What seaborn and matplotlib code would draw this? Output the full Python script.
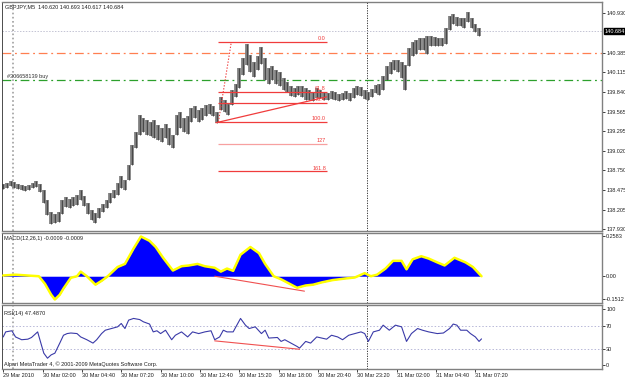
import numpy as np
import pandas as pd
import seaborn as sns
import matplotlib
matplotlib.use("Agg")
import matplotlib.pyplot as plt
import matplotlib.transforms as mtrans
from matplotlib import font_manager

sns.set_theme(style="white")
avail = {f.name for f in font_manager.fontManager.ttflist}
FONT = next((f for f in ["Liberation Sans Narrow", "DejaVu Sans Condensed", "Liberation Sans"] if f in avail), "DejaVu Sans")
plt.rcParams['font.family'] = [FONT, 'DejaVu Sans']

# ---------------- data ----------------
title_text = "GBPJPY,M5  140.620 140.693 140.617 140.684"
last_price = 140.684

# price columns (each column = 3 M5 bars), high / low
price_high = [138.56, 138.57, 138.60, 138.59, 138.56, 138.55, 138.53, 138.55, 138.57, 138.60,
              138.56, 138.48, 138.34, 138.17, 138.14, 138.17, 138.34, 138.38, 138.35, 138.38,
              138.41, 138.48, 138.39, 138.30, 138.20, 138.16, 138.23, 138.28, 138.34, 138.43,
              138.48, 138.57, 138.67, 138.62, 138.82, 139.10, 139.28, 139.52, 139.48, 139.45,
              139.42, 139.45, 139.38, 139.34, 139.39, 139.34, 139.24, 139.52, 139.56, 139.48,
              139.50, 139.62, 139.64, 139.59, 139.62, 139.66, 139.67, 139.64, 139.56, 139.77,
              139.73, 139.67, 139.87, 139.95, 140.17, 140.31, 140.50, 140.35, 140.25, 140.34,
              140.46, 140.31, 140.17, 140.20, 140.14, 140.12, 140.03, 139.98, 139.92, 139.89,
              139.92, 139.92, 139.89, 139.87, 139.84, 139.89, 139.87, 139.84, 139.82, 139.85,
              139.84, 139.81, 139.82, 139.85, 139.82, 139.89, 139.92, 139.91, 139.87, 139.84,
              139.88, 139.93, 139.95, 140.06, 140.20, 140.25, 140.28, 140.28, 140.25, 140.21,
              140.45, 140.53, 140.56, 140.59, 140.59, 140.62, 140.62, 140.60, 140.59, 140.59,
              140.73, 140.89, 140.92, 140.88, 140.87, 140.87, 140.95, 140.87, 140.78, 140.73]
price_low = [138.49, 138.50, 138.53, 138.50, 138.49, 138.48, 138.46, 138.48, 138.50, 138.52,
             138.45, 138.30, 138.13, 138.00, 138.02, 138.03, 138.14, 138.24, 138.23, 138.25,
             138.27, 138.34, 138.25, 138.14, 138.06, 138.02, 138.09, 138.17, 138.23, 138.30,
             138.37, 138.41, 138.50, 138.48, 138.62, 138.82, 139.06, 139.24, 139.28, 139.24,
             139.23, 139.20, 139.17, 139.14, 139.20, 139.10, 139.06, 139.24, 139.34, 139.28,
             139.25, 139.42, 139.48, 139.42, 139.45, 139.50, 139.53, 139.50, 139.41, 139.59,
             139.56, 139.52, 139.66, 139.77, 139.89, 140.07, 140.21, 140.12, 140.05, 140.14,
             140.23, 140.00, 139.95, 140.00, 139.95, 139.92, 139.87, 139.84, 139.78, 139.77,
             139.80, 139.77, 139.73, 139.73, 139.71, 139.75, 139.75, 139.73, 139.73, 139.74,
             139.73, 139.71, 139.73, 139.74, 139.71, 139.75, 139.80, 139.78, 139.74, 139.73,
             139.77, 139.82, 139.80, 139.87, 140.00, 140.09, 140.14, 140.12, 140.03, 139.87,
             140.20, 140.34, 140.37, 140.42, 140.42, 140.37, 140.48, 140.48, 140.48, 140.48,
             140.50, 140.70, 140.78, 140.75, 140.75, 140.73, 140.81, 140.73, 140.67, 140.62]
bars_per_column = 3

price_ticks = [140.930, 140.385, 140.115, 139.840, 139.565, 139.295, 139.020,
               138.750, 138.475, 138.205, 137.930]

orange_level = 140.38
green_level = 140.00
order_label = "#306658139 buy"

fib_high, fib_low = 140.53, 139.42
fib_start_bar, fib_end_bar, fib_peak_bar = 175, 263.5, 185.5
fib_levels = [0.0, 61.8, 76.4, 100.0, 127.0, 161.8]
fib_labels = ["0.0", "61.8", "76.4", "100.0", "127", "161.8"]
fib_colors = ["#f03c3c", "#f03c3c", "#f03c3c", "#f03c3c", "#f7a0a0", "#f03c3c"]

trend_bars = [173, 263]
trend_prices = [139.41, 139.77]

macd_bar = [0, 10, 23, 29, 34, 39, 42, 46, 49, 55, 60, 63, 68, 75, 80, 85, 93, 99, 106, 112,
            119, 124, 130, 138, 145, 151, 158, 164, 172, 177, 182, 187, 193, 201, 208, 213, 220, 226, 239, 246,
            252, 259, 268, 278, 286, 294, 299, 304, 311, 317, 324, 328, 333, 340, 346, 353, 359, 367, 376, 382,
            389]
macd_val = [0.005, 0.01, 0.003, 0.0, -0.05, -0.12, -0.1512, -0.12, -0.08, -0.01,
            0.0, 0.03, 0.0, -0.055, -0.03, 0.0, 0.06, 0.08, 0.18, 0.2583,
            0.23, 0.19, 0.12, 0.037, 0.065, 0.07, 0.08, 0.065, 0.055, 0.03,
            0.05, 0.035, 0.14, 0.19, 0.15, 0.08, 0.0, -0.02, -0.075, -0.06,
            -0.055, -0.04, -0.025, -0.015, -0.008, 0.02, 0.0, 0.01, 0.05, 0.1,
            0.1, 0.045, 0.11, 0.13, 0.115, 0.09, 0.07, 0.12, 0.09, 0.06,
            0.0]
macd_ticks = [0.2583, 0.0, -0.1512]
macd_ticklabels = ["0.2583", "0.00", "-0.1512"]
macd_div_bars = [172, 245]
macd_div_vals = [0.0, -0.097]

rsi_bar = [0, 2, 7, 10, 15, 20, 23, 28, 31, 33, 36, 39, 42, 46, 49, 52, 55, 60, 63, 68,
           73, 76, 80, 83, 88, 93, 96, 99, 102, 106, 111, 114, 119, 122, 125, 128, 132, 137, 140, 145,
           150, 154, 159, 164, 169, 172, 176, 179, 182, 187, 190, 193, 197, 200, 205, 210, 213, 216, 223, 226,
           229, 234, 239, 241, 246, 250, 255, 259, 263, 267, 272, 276, 281, 286, 291, 294, 297, 301, 306, 309,
           314, 319, 324, 328, 332, 337, 341, 346, 353, 358, 363, 366, 369, 372, 377, 380, 384, 387, 389]
rsi_val = [51, 60, 62, 51, 46, 47, 50, 60, 37, 22, 13, 19, 22, 40, 54, 57, 58, 57, 51, 46,
           40, 46, 57, 63, 66, 69, 75, 66, 81, 84, 82, 78, 74, 60, 62, 57, 63, 46, 54, 60,
           51, 60, 57, 60, 62, 46, 51, 63, 60, 60, 72, 84, 72, 66, 69, 57, 63, 49, 50, 43,
           46, 40, 34, 31, 43, 40, 51, 49, 47, 54, 51, 46, 54, 57, 60, 57, 43, 60, 63, 72,
           63, 72, 69, 43, 57, 66, 63, 60, 57, 58, 66, 74, 72, 63, 63, 57, 51, 43, 47.49]
rsi_ticks = [100, 70, 30, 0]
rsi_div_bars = [172, 241]
rsi_div_vals = [44, 29]

day_separators = [8, 296]
time_ticks = [0, 32, 64, 96, 128, 160, 192, 224, 256, 288, 320, 352, 384]
time_labels = ["29 Mar 2010", "30 Mar 02:00", "30 Mar 04:40", "30 Mar 07:20", "30 Mar 10:00",
               "30 Mar 12:40", "30 Mar 15:20", "30 Mar 18:00", "30 Mar 20:40", "30 Mar 23:20",
               "31 Mar 02:00", "31 Mar 04:40", "31 Mar 07:20"]

macd_title = "MACD(12,26,1) -0.0009 -0.0009"
rsi_title = "RSI(14) 47.4870"
copyright_text = "Alpari MetaTrader 4, \u00a9 2001-2009 MetaQuotes Software Corp."

# ---------------- figure ----------------
W, H = 625, 380
fig = plt.figure(figsize=(W / 100, H / 100), dpi=100)
fig.patch.set_facecolor("white")

def box(top, bottom):
    return [2 / W, 1 - bottom / H, 600 / W, (bottom - top) / H]

ax1 = fig.add_axes(box(2, 231))
ax2 = fig.add_axes(box(233, 303))
ax3 = fig.add_axes(box(305, 369))

FS = 4.0
for ax in (ax1, ax2, ax3):
    ax.set_facecolor("white")
    ax.set_xlim(-1, 487)
    ax.yaxis.tick_right()
    ax.tick_params(axis="y", which="both", right=True, left=False, length=2, width=0.6,
                   pad=1, labelsize=FS, colors="#202020", direction="out")
    for s in ax.spines.values():
        s.set_color("#808080")
        s.set_linewidth(1.0)
    ax.spines["left"].set_color("#303030")
    ax.spines["left"].set_linewidth(0.6)
    ax.grid(False)
    ax.axvline(day_separators[0], color="#a0a0a0", ls=(0, (1, 1.5)), lw=1.2, zorder=1)
    ax.axvline(day_separators[1], color="#202020", ls=(0, (1.5, 1.5)), lw=0.6, zorder=1)

# ---- main price panel ----
df = pd.DataFrame({"bar": np.arange(len(price_high)) * bars_per_column,
                   "high": price_high, "low": price_low})
ax1.axhline(last_price, color="#c4c4d4", ls=(0, (1.5, 1.5)), lw=0.7, zorder=1)
ax1.axhline(orange_level, color="#ff7f50", ls=(0, (7, 3, 1.5, 3)), lw=0.9, zorder=1)
ax1.axhline(green_level, color="#2ca02c", ls=(0, (7, 3, 1.5, 3)), lw=0.9, zorder=1)
ax1.vlines(df["bar"], df["low"], df["high"], color="#7e7e7e", lw=2.7, zorder=2)
ax1.vlines(df["bar"], df["low"], df["high"], color="#3a3a3a", lw=0.55, zorder=3)
ax1.set_ylim(137.907, 141.087)
ax1.set_yticks(price_ticks)
ax1.set_yticklabels([f"{t:.3f}" for t in price_ticks])
ax1.set_xticks([])

ax1.text(3, green_level + 0.015, order_label, fontsize=FS, color="#303030", va="bottom", ha="left")

for lev, lab, col in zip(fib_levels, fib_labels, fib_colors):
    p = fib_high - (fib_high - fib_low) * lev / 100.0
    ax1.hlines(p, fib_start_bar, fib_end_bar, color=col, lw=0.9, zorder=4)
    ax1.text(fib_end_bar - 1, p + 0.012, lab, fontsize=FS, color="#f03c3c", ha="right", va="bottom", zorder=5)
ax1.plot([fib_start_bar, fib_peak_bar], [fib_low, fib_high], color="#f03c3c", ls=(0, (1.2, 1.5)), lw=0.8, zorder=4)
ax1.plot(trend_bars, trend_prices, color="#f03c3c", lw=0.9, zorder=4)

ax1.text(1.004, last_price, f"{last_price:.3f}", transform=mtrans.blended_transform_factory(ax1.transAxes, ax1.transData),
         fontsize=FS, color="white", va="center", ha="left",
         bbox=dict(boxstyle="square,pad=0.12", fc="black", ec="black"), clip_on=False, zorder=10)
fig.text(5 / W, 1 - 7 / H, title_text, fontsize=FS, color="#202020", va="center", ha="left")

# ---- MACD panel ----
ax2.fill_between(macd_bar, 0, macd_val, color="#0000ff", lw=0, zorder=2)
sns.lineplot(x=macd_bar, y=macd_val, ax=ax2, color="#ffff00", lw=1.8, zorder=3)
ax2.plot(macd_div_bars, macd_div_vals, color="#f05050", lw=0.8, zorder=4)
ax2.set_ylim(-0.174, 0.281)
ax2.set_yticks(macd_ticks)
ax2.set_yticklabels(macd_ticklabels)
ax2.set_xticks([])
ax2.set_xlabel("")
ax2.set_ylabel("")
fig.text(4 / W, 1 - 239 / H, macd_title, fontsize=FS, color="#202020", va="center", ha="left")

# ---- RSI panel ----
for lv in (70, 30):
    ax3.axhline(lv, color="#b8b8d8", ls=(0, (1.5, 2)), lw=0.7, zorder=1)
sns.lineplot(x=rsi_bar, y=rsi_val, ax=ax3, color="#3a3aa8", lw=0.8, zorder=3)
ax3.plot(rsi_div_bars, rsi_div_vals, color="#f05050", lw=0.8, zorder=4)
ax3.set_ylim(-6.25, 108)
ax3.set_yticks(rsi_ticks)
ax3.set_yticklabels([str(t) for t in rsi_ticks])
ax3.set_xticks(time_ticks)
ax3.set_xticklabels(time_labels, ha="left")
ax3.tick_params(axis="x", bottom=True, length=2, width=0.6, pad=1, labelsize=FS, colors="#202020", direction="out")
ax3.set_xlabel("")
ax3.set_ylabel("")
fig.text(4 / W, 1 - 313 / H, rsi_title, fontsize=FS, color="#202020", va="center", ha="left")
fig.text(4 / W, 1 - 364 / H, copyright_text, fontsize=FS, color="#202020", va="center", ha="left")

fig.savefig("out.png", dpi=100, facecolor="white")
